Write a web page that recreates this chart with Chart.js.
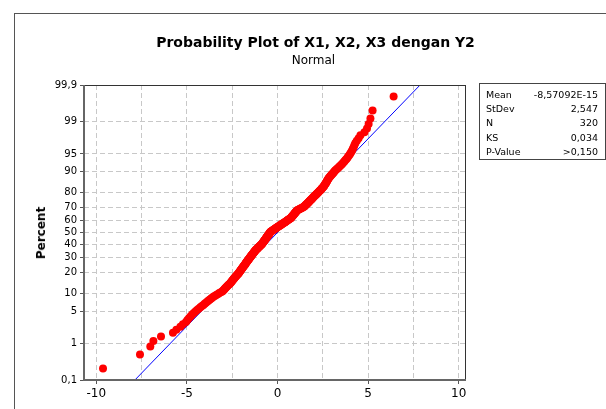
<!DOCTYPE html>
<html lang="id">
<head>
  <meta charset="UTF-8">
  <title>Probability Plot of X1, X2, X3 dengan Y2</title>
  <script src="https://cdn.jsdelivr.net/npm/chart.js"></script>
  <style>
    body {
      margin: 0;
      background: #fff;
      font-family: "DejaVu Sans", Tahoma, sans-serif;
      color: #000;
    }
    .wrap {
      position: relative;
      width: 606px;
      height: 409px;
      overflow: hidden;
    }
    .frame {
      position: absolute;
      left: 14px;
      top: 13px;
      width: 700px;
      height: 500px;
      border: 1px solid #555;
    }
    canvas { position: absolute; left: 0; top: 0; }
    .title {
      position: absolute;
      left: 0;
      width: 631px;
      text-align: center;
      top: 34px;
      font: bold 14px "DejaVu Sans", Tahoma, sans-serif;
    }
    .subtitle {
      position: absolute;
      left: 0;
      width: 627px;
      text-align: center;
      top: 53px;
      font: 12px "DejaVu Sans", Tahoma, sans-serif;
    }
    .ylabel {
      position: absolute;
      left: 41px;
      top: 233px;
      transform: translate(-50%, -50%) rotate(-90deg);
      font: bold 12px "DejaVu Sans", Tahoma, sans-serif;
    }
    .stats {
      position: absolute;
      left: 479px;
      top: 83px;
      width: 125px;
      height: 75px;
      border: 1px solid #444;
      font: 9.5px "DejaVu Sans", Tahoma, sans-serif;
    }
    .stat-row {
      display: flex;
      justify-content: space-between;
      height: 14.2px;
      line-height: 14.2px;
      padding: 0 7px 0 6px;
    }
    .stat-row:first-child { margin-top: 4px; }
  </style>
</head>
<body>
<div class="wrap">
  <div class="frame"></div>
  <canvas id="probPlot" width="606" height="409"></canvas>
  <div class="title">Probability Plot of X1, X2, X3 dengan Y2</div>
  <div class="subtitle">Normal</div>
  <div class="ylabel">Percent</div>
  <div class="stats" id="statsBox"></div>
</div>

<script>
  // nilai residual terurut
  const residuals = [
    -9.63, -7.59, -7.02, -6.85, -6.43, -5.77, -5.58, -5.36, -5.22, -5.05,
    -4.97, -4.88, -4.79, -4.71, -4.62, -4.53, -4.44, -4.35, -4.26, -4.17,
    -4.09, -4.02, -3.95, -3.87, -3.80, -3.73, -3.66, -3.59, -3.52, -3.44,
    -3.36, -3.28, -3.21, -3.13, -3.05, -3.01, -2.97, -2.93, -2.90, -2.86,
    -2.82, -2.78, -2.74, -2.70, -2.66, -2.62, -2.59, -2.56, -2.53, -2.51,
    -2.48, -2.45, -2.43, -2.40, -2.37, -2.35, -2.32, -2.29, -2.26, -2.24,
    -2.21, -2.18, -2.15, -2.13, -2.11, -2.09, -2.07, -2.05, -2.03, -2.01,
    -1.99, -1.97, -1.95, -1.93, -1.91, -1.89, -1.87, -1.85, -1.83, -1.81,
    -1.79, -1.78, -1.76, -1.74, -1.72, -1.71, -1.69, -1.67, -1.65, -1.63,
    -1.62, -1.60, -1.58, -1.56, -1.54, -1.53, -1.51, -1.49, -1.47, -1.46,
    -1.44, -1.42, -1.40, -1.39, -1.37, -1.35, -1.33, -1.32, -1.30, -1.28,
    -1.26, -1.25, -1.23, -1.21, -1.19, -1.17, -1.14, -1.12, -1.10, -1.08,
    -1.06, -1.03, -1.01, -0.99, -0.97, -0.95, -0.93, -0.90, -0.88, -0.86,
    -0.84, -0.83, -0.81, -0.80, -0.78, -0.77, -0.75, -0.74, -0.72, -0.71,
    -0.69, -0.68, -0.66, -0.65, -0.63, -0.62, -0.61, -0.59, -0.58, -0.56,
    -0.55, -0.53, -0.52, -0.50, -0.49, -0.47, -0.46, -0.44, -0.43, -0.42,
    -0.40, -0.39, -0.36, -0.33, -0.30, -0.27, -0.24, -0.21, -0.18, -0.15,
    -0.12, -0.09, -0.06, -0.03, 0.00, 0.03, 0.06, 0.10, 0.13, 0.16,
    0.19, 0.22, 0.25, 0.28, 0.31, 0.34, 0.38, 0.41, 0.44, 0.47,
    0.50, 0.53, 0.56, 0.59, 0.62, 0.65, 0.69, 0.72, 0.74, 0.76,
    0.78, 0.80, 0.81, 0.83, 0.85, 0.87, 0.89, 0.91, 0.92, 0.94,
    0.96, 0.98, 1.00, 1.02, 1.03, 1.05, 1.07, 1.09, 1.14, 1.18,
    1.23, 1.27, 1.32, 1.36, 1.41, 1.45, 1.48, 1.50, 1.53, 1.55,
    1.58, 1.60, 1.63, 1.65, 1.68, 1.70, 1.73, 1.75, 1.78, 1.80,
    1.83, 1.85, 1.88, 1.90, 1.93, 1.95, 1.98, 2.00, 2.03, 2.06,
    2.09, 2.12, 2.15, 2.17, 2.20, 2.23, 2.26, 2.29, 2.32, 2.35,
    2.38, 2.41, 2.43, 2.46, 2.49, 2.52, 2.55, 2.57, 2.59, 2.61,
    2.63, 2.66, 2.68, 2.70, 2.72, 2.74, 2.76, 2.78, 2.81, 2.83,
    2.87, 2.90, 2.94, 2.97, 3.01, 3.05, 3.08, 3.12, 3.16, 3.20,
    3.26, 3.31, 3.37, 3.42, 3.48, 3.54, 3.59, 3.65, 3.70, 3.75,
    3.81, 3.86, 3.91, 3.97, 4.02, 4.07, 4.12, 4.16, 4.21, 4.25,
    4.30, 4.38, 4.48, 4.58, 4.80, 4.94, 5.03, 5.13, 5.25, 6.41
  ];
  const percentTicks = [0.1, 1, 5, 10, 20, 30, 40, 50, 60, 70, 80, 90, 95, 99, 99.9];
  const xTicks = [-10, -7.5, -5, -2.5, 0, 2.5, 5, 7.5, 10];
  const xMin = -10.68, xMax = 10.35;
  const statLabels = ['Mean', 'StDev', 'N', 'KS', 'P-Value'];
  const statValues = ['-8,57092E-15', '2,547', '320', '0,034', '>0,150'];
  const fitMean = -8.57092e-15;
  const fitStDev = 2.547;

  // invers distribusi normal baku (Acklam)
  function probit(p) {
    const a = [-3.969683028665376e+01, 2.209460984245205e+02, -2.759285104469687e+02, 1.383577518672690e+02, -3.066479806614716e+01, 2.506628277459239e+00];
    const b = [-5.447609879822406e+01, 1.615858368580409e+02, -1.556989798598866e+02, 6.680131188771901e+01, -1.328068155288572e+01];
    const c = [-7.784894002430293e-03, -3.223964580411365e-01, -2.400758277161838e+00, -2.549732539343734e+00, 4.374664141464968e+00, 2.938163982698783e+00];
    const d = [7.784695709041462e-03, 3.224671290700398e-01, 2.445134137142996e+00, 3.754408661907416e+00];
    const pl = 0.02425;
    let q, r;
    if (p < pl) {
      q = Math.sqrt(-2 * Math.log(p));
      return (((((c[0]*q+c[1])*q+c[2])*q+c[3])*q+c[4])*q+c[5]) / ((((d[0]*q+d[1])*q+d[2])*q+d[3])*q+1);
    }
    if (p <= 1 - pl) {
      q = p - 0.5; r = q * q;
      return (((((a[0]*r+a[1])*r+a[2])*r+a[3])*r+a[4])*r+a[5])*q / (((((b[0]*r+b[1])*r+b[2])*r+b[3])*r+b[4])*r+1);
    }
    q = Math.sqrt(-2 * Math.log(1 - p));
    return -(((((c[0]*q+c[1])*q+c[2])*q+c[3])*q+c[4])*q+c[5]) / ((((d[0]*q+d[1])*q+d[2])*q+d[3])*q+1);
  }

  const n = residuals.length;
  // median rank (i - 0.3) / (n + 0.4)
  const points = residuals.map((v, i) => ({ x: v, y: probit((i + 1 - 0.3) / (n + 0.4)) }));
  const zLo = probit(percentTicks[0] / 100);
  const zHi = probit(percentTicks[percentTicks.length - 1] / 100);
  const fitLine = [
    { x: fitMean + fitStDev * zLo, y: zLo },
    { x: fitMean + fitStDev * zHi, y: zHi }
  ];

  // kotak statistik
  const box = document.getElementById('statsBox');
  statLabels.forEach((label, i) => {
    const row = document.createElement('div');
    row.className = 'stat-row';
    const l = document.createElement('span');
    l.textContent = label;
    const v = document.createElement('span');
    v.textContent = statValues[i];
    row.appendChild(l);
    row.appendChild(v);
    box.appendChild(row);
  });

  const plotFrame = {
    id: 'plotFrame',
    afterDraw(chart) {
      const { ctx, chartArea: a } = chart;
      ctx.save();
      ctx.strokeStyle = '#333';
      ctx.lineWidth = 1;
      ctx.strokeRect(a.left + 0.5, a.top + 0.5, a.right - a.left, a.bottom - a.top);
      ctx.strokeStyle = '#666';
      ctx.lineWidth = 2;
      ctx.beginPath();
      ctx.moveTo(a.left, a.top);
      ctx.lineTo(a.left, a.bottom);
      ctx.lineTo(a.right + 1, a.bottom);
      ctx.stroke();
      ctx.restore();
    }
  };

  const isMajor = v => Math.abs(v % 5) < 1e-9;

  new Chart(document.getElementById('probPlot'), {
    type: 'scatter',
    data: {
      datasets: [{
        data: points,
        backgroundColor: '#ff0000',
        borderWidth: 0,
        pointRadius: 4
      }, {
        type: 'line',
        data: fitLine,
        borderColor: '#0000ff',
        borderWidth: 1,
        pointRadius: 0,
        fill: false
      }]
    },
    options: {
      responsive: false,
      animation: false,
      layout: { padding: { top: 85, right: 141, left: 0, bottom: 0 } },
      plugins: {
        legend: { display: false },
        tooltip: { enabled: false }
      },
      scales: {
        x: {
          type: 'linear',
          min: xMin,
          max: xMax,
          afterBuildTicks: s => { s.ticks = xTicks.map(v => ({ value: v })); },
          afterFit: s => { s.height = 29; },
          ticks: {
            autoSkip: false,
            maxRotation: 0,
            padding: 3,
            color: '#000',
            font: { family: '"DejaVu Sans", Tahoma, sans-serif', size: 12 },
            callback: v => isMajor(v) ? String(v) : ''
          },
          grid: {
            color: '#c8c8c8',
            tickLength: 4,
            tickColor: c => isMajor(c.tick.value) ? '#555' : 'rgba(0,0,0,0)'
          },
          border: { display: false, dash: [5, 3] }
        },
        y: {
          type: 'linear',
          min: zLo,
          max: zHi,
          afterBuildTicks: s => { s.ticks = percentTicks.map(p => ({ value: probit(p / 100) })); },
          afterFit: s => { s.width = 84; },
          ticks: {
            autoSkip: false,
            padding: 3,
            color: '#000',
            font: { family: '"DejaVu Sans", Tahoma, sans-serif', size: 10 },
            callback: (v, i) => String(percentTicks[i]).replace('.', ',')
          },
          grid: {
            color: '#c8c8c8',
            tickLength: 4,
            tickColor: '#555'
          },
          border: { display: false, dash: [5, 3] }
        }
      }
    },
    plugins: [plotFrame]
  });
</script>
</body>
</html>
